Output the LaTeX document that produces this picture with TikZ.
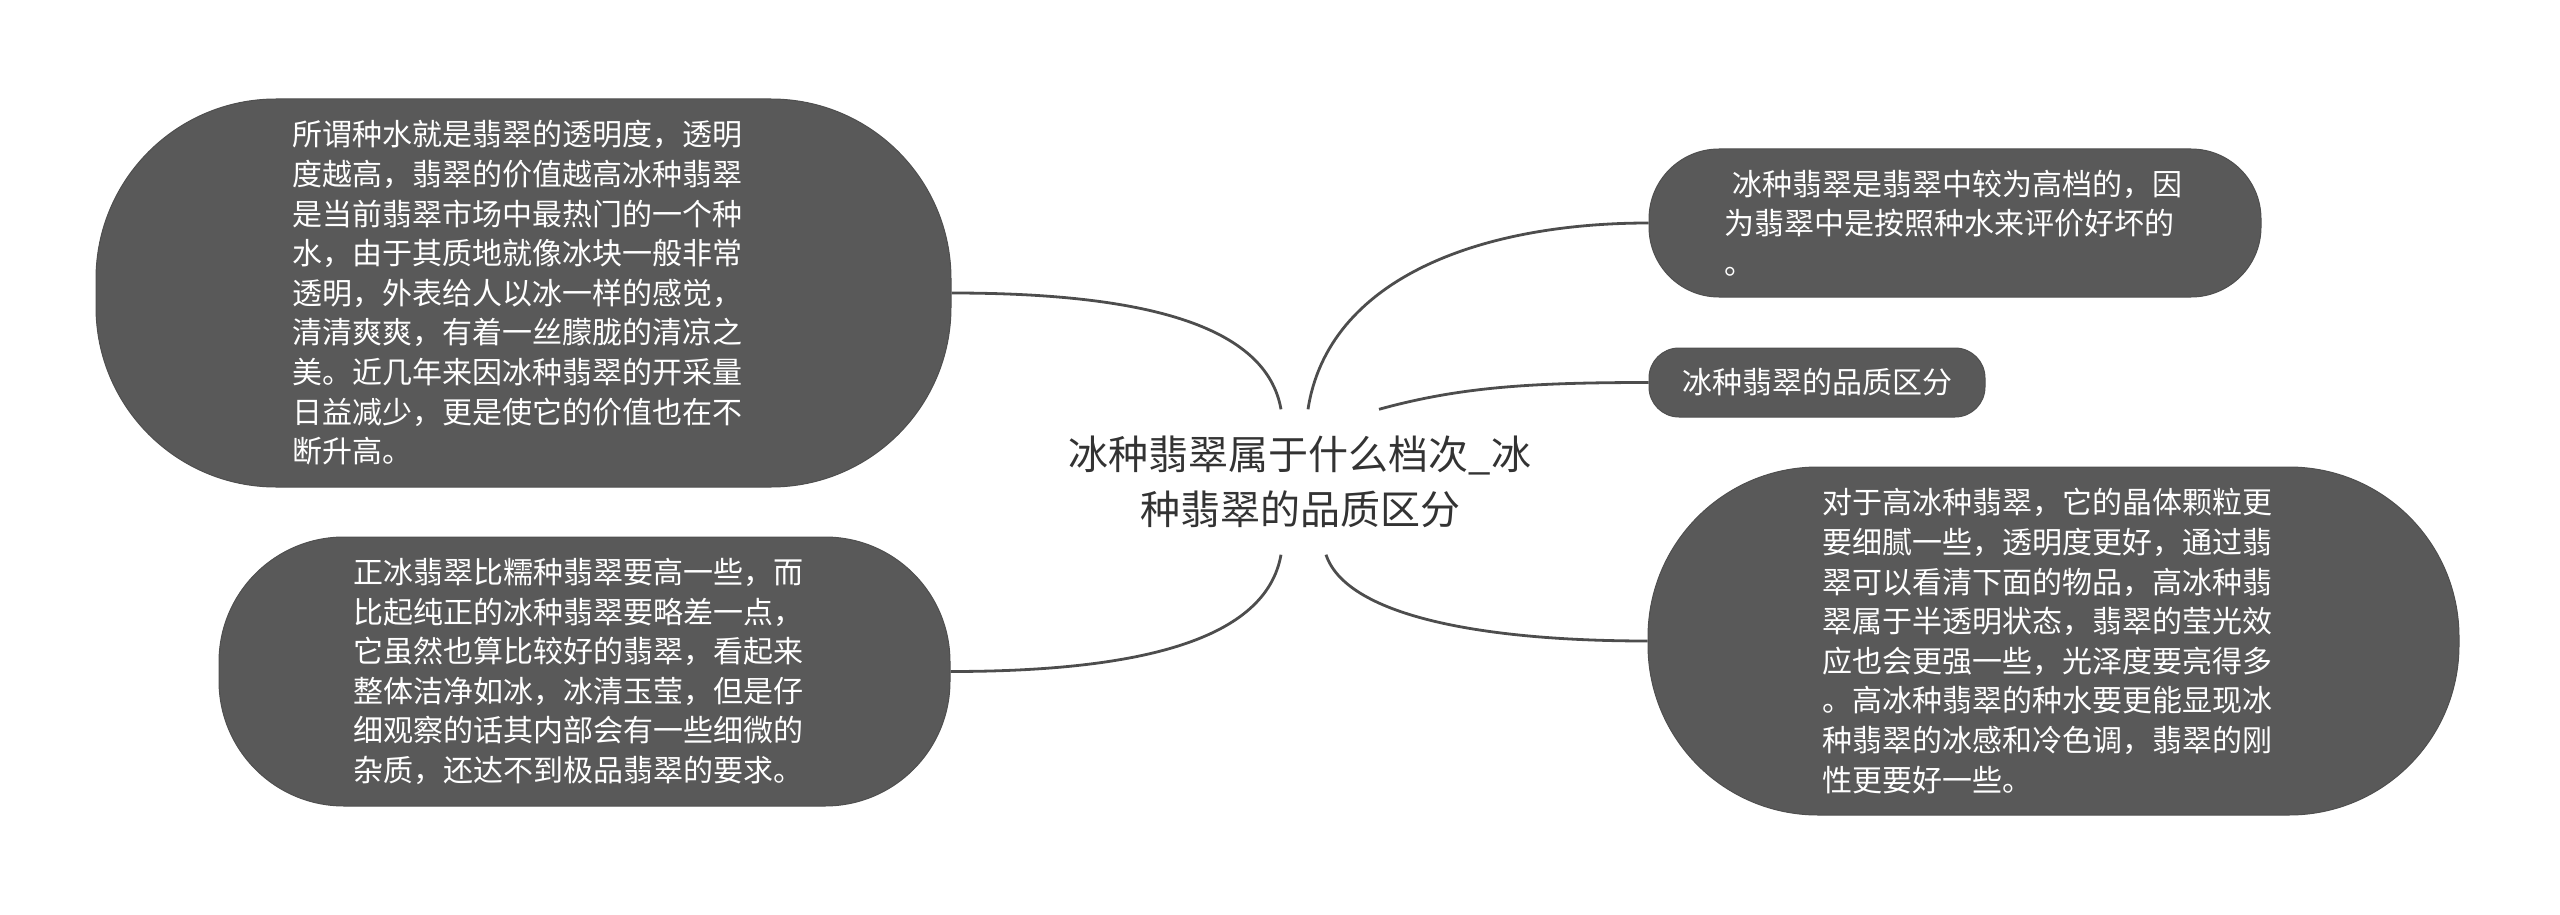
\documentclass[tikz,border=0pt]{standalone}
\usepackage{fontspec}
\newfontfamily\cjkfont{Noto Sans CJK SC}
\definecolor{boxgray}{HTML}{595959}
\definecolor{boxedge}{HTML}{4F4F4F}
\definecolor{linegray}{HTML}{4D4D4D}
\definecolor{titlegray}{HTML}{333333}
\begin{document}
\begin{tikzpicture}[x=1pt,y=-1pt,
  textbox/.style={rectangle, fill=boxgray, draw=boxedge, line width=1pt, text=white,
    font=\cjkfont\fontsize{30pt}{39.6pt}\selectfont, inner sep=0pt, align=left, text width=462pt},
  smallbox/.style={rectangle, fill=boxgray, draw=boxedge, line width=1pt, text=white,
    font=\cjkfont\fontsize{30pt}{39.6pt}\selectfont, inner sep=0pt, align=center},
  centre/.style={rectangle, inner sep=0pt, align=center, text=titlegray,
    font=\cjkfont\fontsize{40pt}{55pt}\selectfont, minimum width=460pt, minimum height=145pt},
  conn/.style={draw=linegray, line width=2.8pt}]
\useasboundingbox (0,0) rectangle (2560,915);

\node[centre] (c) at (1300,482) {冰种翡翠属于什么档次\_冰\\种翡翠的品质区分};

\node[textbox, minimum width=855pt, minimum height=388pt, rounded corners=180pt] (n1) at (523.5,293)
 {所谓种水就是翡翠的透明度，透明\\度越高，翡翠的价值越高冰种翡翠\\是当前翡翠市场中最热门的一个种\\水，由于其质地就像冰块一般非常\\透明，外表给人以冰一样的感觉，\\清清爽爽，有着一丝朦胧的清凉之\\美。近几年来因冰种翡翠的开采量\\日益减少，更是使它的价值也在不\\断升高。};

\node[textbox, minimum width=731pt, minimum height=269pt, rounded corners=125pt] (n2) at (584.5,671.5)
 {正冰翡翠比糯种翡翠要高一些，而\\比起纯正的冰种翡翠要略差一点，\\它虽然也算比较好的翡翠，看起来\\整体洁净如冰，冰清玉莹，但是仔\\细观察的话其内部会有一些细微的\\杂质，还达不到极品翡翠的要求。};

\node[textbox, minimum width=612pt, minimum height=148pt, rounded corners=70pt] (n3) at (1955,223)
 {\hspace*{8pt}冰种翡翠是翡翠中较为高档的，因\\为翡翠中是按照种水来评价好坏的\\。};

\node[smallbox, minimum width=336pt, minimum height=69pt, rounded corners=30pt] (n4) at (1817,382.5)
 {冰种翡翠的品质区分};

\node[textbox, minimum width=811pt, minimum height=348pt, rounded corners=170pt] (n5) at (2053.5,641)
 {对于高冰种翡翠，它的晶体颗粒更\\要细腻一些，透明度更好，通过翡\\翠可以看清下面的物品，高冰种翡\\翠属于半透明状态，翡翠的莹光效\\应也会更强一些，光泽度要亮得多\\。高冰种翡翠的种水要更能显现冰\\种翡翠的冰感和冷色调，翡翠的刚\\性更要好一些。};

\draw[conn] (n1.east) .. controls +(190,0) and +(-15,-85) .. ([xshift=-19pt]c.north);
\draw[conn] ([xshift=8pt]c.north) .. controls +(20,-130) and +(-170,0) .. (n3.west);
\draw[conn] ([xshift=79pt]c.north) .. controls +(80,-22) and +(-120,0) .. (n4.west);
\draw[conn] ([xshift=-19pt]c.south) .. controls +(-15,85) and +(190,0) .. (n2.east);
\draw[conn] ([xshift=26pt]c.south) .. controls +(20,60) and +(-170,0) .. (n5.west);
\end{tikzpicture}
\end{document}
